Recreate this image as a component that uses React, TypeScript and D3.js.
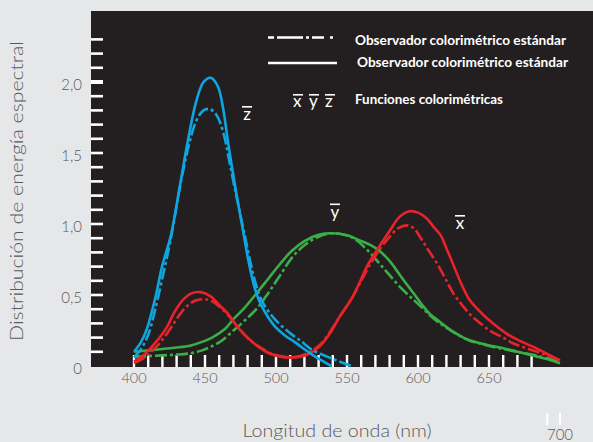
import React from "react";
import * as d3 from "d3";

type P = [number, number];

const xTickValues: number[] = d3.range(400, 690, 10);
const xTickLabels: number[] = [400, 450, 500, 550, 600, 650];
const yTickValues: number[] = d3.range(1, 24).map((d) => d / 10);
const yTickLabels: { v: number; t: string }[] = [
  { v: 2.0, t: "2,0" },
  { v: 1.5, t: "1,5" },
  { v: 1.0, t: "1,0" },
  { v: 0.5, t: "0,5" },
  { v: 0, t: "0" },
];

const zSolid: P[] = [
  [400, 0.1], [405, 0.17], [409, 0.26], [415, 0.48], [420, 0.71], [426, 0.92],
  [432, 1.25], [438, 1.59], [444, 1.87], [449, 2.0], [454, 2.03], [459, 1.97],
  [463, 1.8], [466, 1.59], [472, 1.22], [477, 0.94], [481, 0.72], [485, 0.55],
  [489, 0.44], [494, 0.35], [500, 0.27], [507, 0.21], [513, 0.17], [519, 0.125],
  [526, 0.077], [532, 0.04], [539, 0.0],
];
const zDashed: P[] = [
  [400, 0.06], [405, 0.12], [410, 0.22], [415, 0.4], [420, 0.62], [426, 0.9],
  [432, 1.24], [438, 1.53], [444, 1.73], [449, 1.8], [453, 1.81], [458, 1.77],
  [463, 1.64], [467, 1.45], [472, 1.2], [478, 0.92], [482, 0.73], [486, 0.57],
  [490, 0.46], [495, 0.38], [502, 0.3], [510, 0.23], [517, 0.18], [526, 0.11],
  [536, 0.066], [545, 0.03], [553, 0.0],
];
const xSolid: P[] = [
  [400, 0.03], [406, 0.07], [412, 0.13], [418, 0.2], [423, 0.27], [428, 0.37],
  [434, 0.46], [440, 0.51], [447, 0.52], [454, 0.49], [460, 0.43], [466, 0.37],
  [471, 0.3], [475, 0.25], [481, 0.19], [487, 0.14], [495, 0.09], [503, 0.066],
  [510, 0.06], [517, 0.066], [524, 0.09], [531, 0.14], [538, 0.23], [545, 0.35],
  [553, 0.47], [559, 0.59], [564, 0.7], [572, 0.83], [580, 0.95], [587, 1.05],
  [594, 1.09], [600, 1.08], [606, 1.04], [611, 0.98], [616, 0.92], [620, 0.83],
  [625, 0.71], [630, 0.59], [636, 0.47], [642, 0.4], [647, 0.35], [654, 0.29],
  [662, 0.23], [671, 0.18], [681, 0.136], [690, 0.09], [700, 0.04],
];
const xDashed: P[] = [
  [400, 0.02], [406, 0.05], [412, 0.1], [418, 0.16], [424, 0.24], [430, 0.33],
  [436, 0.41], [443, 0.46], [450, 0.47], [456, 0.45], [462, 0.4], [467, 0.35],
  [472, 0.29], [477, 0.23], [483, 0.17], [489, 0.13], [496, 0.09], [503, 0.07],
  [510, 0.06], [517, 0.07], [524, 0.1], [531, 0.15], [538, 0.24], [545, 0.35],
  [553, 0.47], [560, 0.6], [566, 0.71], [573, 0.82], [580, 0.91], [586, 0.97],
  [592, 0.99], [597, 0.97], [602, 0.9], [607, 0.82], [613, 0.73], [619, 0.62],
  [625, 0.51], [631, 0.43], [637, 0.36], [644, 0.3], [652, 0.24], [660, 0.2],
  [667, 0.16], [675, 0.13], [684, 0.1], [692, 0.07], [700, 0.04],
];
const ySolid: P[] = [
  [400, 0.1], [410, 0.11], [420, 0.12], [430, 0.13], [440, 0.145], [448, 0.17],
  [455, 0.2], [464, 0.26], [470, 0.33], [477, 0.4], [487, 0.52], [495, 0.62],
  [503, 0.72], [511, 0.81], [520, 0.88], [530, 0.925], [540, 0.935], [550, 0.92],
  [560, 0.88], [567, 0.85], [573, 0.81], [580, 0.74], [588, 0.63], [597, 0.51],
  [603, 0.43], [608, 0.37], [613, 0.33], [618, 0.29], [625, 0.24], [632, 0.2],
  [640, 0.17], [650, 0.145], [660, 0.125], [670, 0.1], [684, 0.066], [692, 0.045],
  [700, 0.02],
];
const yDashed: P[] = [
  [400, 0.065], [410, 0.07], [420, 0.075], [430, 0.08], [440, 0.09], [448, 0.11],
  [455, 0.14], [462, 0.18], [470, 0.25], [478, 0.32], [487, 0.41], [495, 0.52],
  [503, 0.64], [511, 0.76], [520, 0.85], [530, 0.91], [540, 0.935], [548, 0.925],
  [556, 0.89], [565, 0.81], [573, 0.72], [580, 0.64], [588, 0.55], [597, 0.465],
  [603, 0.41], [608, 0.36], [614, 0.31], [620, 0.27], [628, 0.22], [636, 0.18],
  [645, 0.155], [655, 0.13], [665, 0.11], [675, 0.09], [685, 0.07], [700, 0.03],
];

const BLUE = "#0fa6e0";
const RED = "#e9232a";
const GREEN = "#3aae47";
const GRAY = "#58595b";
const FONT = "Lato, 'Open Sans', sans-serif";

export default function App() {
  const W = 593;
  const H = 442;
  const x = d3.scaleLinear().domain([400, 700]).range([134, 560]);
  const y = d3.scaleLinear().domain([0, 2]).range([366, 82]);
  const line = d3
    .line<P>()
    .x((d) => x(d[0]))
    .y((d) => y(d[1]))
    .curve(d3.curveCatmullRom.alpha(0.5));
  const dash = "12,3,3,3";
  const curves = [
    { d: ySolid, c: GREEN, dashed: false },
    { d: yDashed, c: GREEN, dashed: true },
    { d: xSolid, c: RED, dashed: false },
    { d: xDashed, c: RED, dashed: true },
    { d: zSolid, c: BLUE, dashed: false },
    { d: zDashed, c: BLUE, dashed: true },
  ];
  const bar = (cx: number, yb: number, w: number) => (
    <rect x={cx - w / 2} y={yb} width={w} height={1.6} fill="#fff" />
  );
  return (
    <svg
      width={W}
      height={H}
      style={{ position: "absolute", left: 0, top: 0, display: "block" }}
    >
      <rect x={0} y={0} width={W} height={H} fill="#e6e7e9" />
      <rect x={91} y={11} width={W - 91} height={356} fill="#231f20" />
      {yTickValues.map((v) => (
        <rect
          key={"yt" + v}
          x={91}
          y={y(v) - (Math.abs(v - 2) < 1e-6 ? 2 : 1.3)}
          width={12}
          height={Math.abs(v - 2) < 1e-6 ? 4 : 2.6}
          fill="#fff"
        />
      ))}
      {xTickValues.map((v) => (
        <rect key={"xt" + v} x={x(v) - 1.2} y={355} width={2.4} height={12} fill="#fff" />
      ))}
      {curves.map((c, i) => (
        <path
          key={i}
          d={line(c.d) || ""}
          fill="none"
          stroke={c.c}
          strokeWidth={2.6}
          strokeDasharray={c.dashed ? dash : undefined}
          strokeLinecap="butt"
        />
      ))}
      {yTickLabels.map((l) => (
        <text
          key={"yl" + l.t}
          x={82}
          y={y(l.v) + 8}
          textAnchor="end"
          fontFamily={FONT}
          fontSize={15}
          fontWeight={300}
          fill={GRAY}
        >
          {l.t}
        </text>
      ))}
      {xTickLabels.map((v) => (
        <text
          key={"xl" + v}
          x={x(v)}
          y={383}
          textAnchor="middle"
          fontFamily={FONT}
          fontSize={14.5}
          fontWeight={300}
          fill={GRAY}
        >
          {v}
        </text>
      ))}
      <rect x={x(691) - 1} y={413} width={2} height={12} fill="#fff" />
      <rect x={x(700) - 1} y={413} width={2} height={12} fill="#fff" />
      <text x={x(700)} y={440} textAnchor="middle" fontFamily={FONT} fontSize={15} fontWeight={300} fill={GRAY}>
        700
      </text>
      <text
        transform="translate(23,191) rotate(-90)"
        textAnchor="middle"
        fontFamily={FONT}
        fontSize={18}
        fontWeight={300}
        fill={GRAY}
        textLength={300}
        lengthAdjust="spacingAndGlyphs"
      >
        Distribución de energía espectral
      </text>
      <text
        x={337}
        y={437}
        textAnchor="middle"
        fontFamily={FONT}
        fontSize={18}
        fontWeight={300}
        fill={GRAY}
        textLength={189}
        lengthAdjust="spacingAndGlyphs"
      >
        Longitud de onda (nm)
      </text>
      <line x1={268} x2={337} y1={37.5} y2={37.5} stroke="#fff" strokeWidth={2.4} strokeDasharray="6,3,26,3,3,3,12" />
      <line x1={268} x2={337} y1={63} y2={63} stroke="#fff" strokeWidth={2.4} />
      <text x={355} y={45} fontFamily={FONT} fontSize={12.5} fontWeight={700} fill="#fff" textLength={211} lengthAdjust="spacingAndGlyphs">
        Observador colorimétrico estándar
      </text>
      <text x={357} y={67} fontFamily={FONT} fontSize={12.5} fontWeight={700} fill="#fff" textLength={211} lengthAdjust="spacingAndGlyphs">
        Observador colorimétrico estándar
      </text>
      <text x={355} y={104} fontFamily={FONT} fontSize={12.5} fontWeight={700} fill="#fff" textLength={148} lengthAdjust="spacingAndGlyphs">
        Funciones colorimétricas
      </text>
      <text x={293} y={107} fontFamily={FONT} fontSize={17} fill="#fff">
        x
      </text>
      <text x={309} y={107} fontFamily={FONT} fontSize={17} fill="#fff">
        y
      </text>
      <text x={325} y={107} fontFamily={FONT} fontSize={17} fill="#fff">
        z
      </text>
      {bar(298, 94, 10)}
      {bar(314, 94, 10)}
      {bar(330, 94, 10)}
      <text x={247} y={120} textAnchor="middle" fontFamily={FONT} fontSize={17} fill="#fff">
        z
      </text>
      {bar(247, 106, 10)}
      <text x={335} y={218} textAnchor="middle" fontFamily={FONT} fontSize={17} fill="#fff">
        y
      </text>
      {bar(335, 203.5, 10)}
      <text x={460} y={229} textAnchor="middle" fontFamily={FONT} fontSize={17} fill="#fff">
        x
      </text>
      {bar(460, 215, 10)}
    </svg>
  );
}
